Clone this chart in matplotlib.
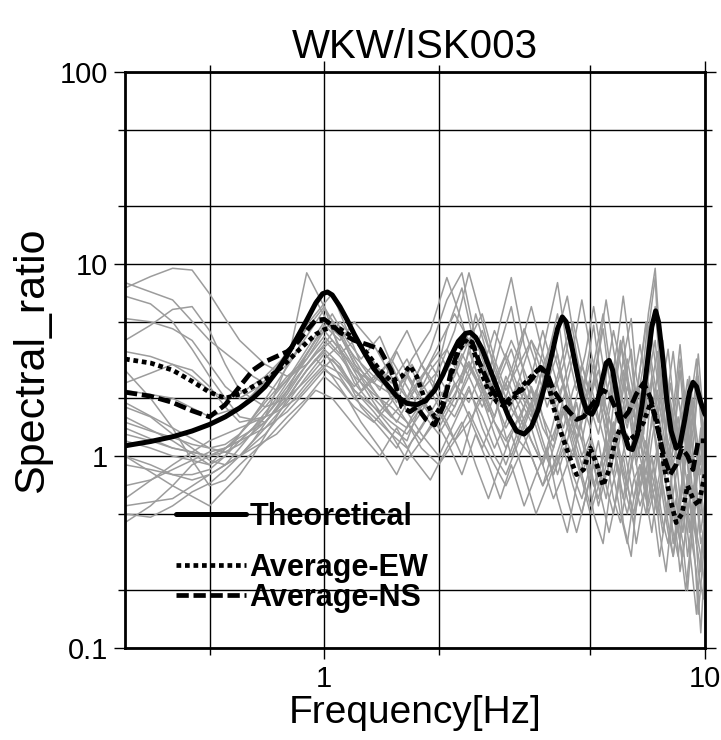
import matplotlib
matplotlib.use("Agg")
import matplotlib.pyplot as plt
from matplotlib.ticker import FixedLocator, NullFormatter

plt.rcParams["font.family"] = ["Liberation Sans", "DejaVu Sans"]

# Theoretical transfer function
theo_f = [0.30, 0.35, 0.40, 0.45, 0.50, 0.55, 0.60, 0.65, 0.70, 0.75,
          0.80, 0.85, 0.90, 0.95, 0.99, 1.02, 1.05, 1.10, 1.15, 1.20,
          1.27, 1.35, 1.45, 1.55, 1.65, 1.75, 1.85, 1.95, 2.05, 2.15,
          2.25, 2.35, 2.42, 2.50, 2.60, 2.75, 2.90, 3.05, 3.20, 3.35,
          3.50, 3.65, 3.80, 3.95, 4.10, 4.22, 4.32, 4.45, 4.60, 4.75,
          4.90, 5.05, 5.20, 5.35, 5.50, 5.60, 5.72, 5.90, 6.10, 6.30,
          6.45, 6.65, 6.85, 7.05, 7.25, 7.42, 7.55, 7.75, 7.95, 8.15,
          8.40, 8.60, 8.85, 9.10, 9.30, 9.50, 9.75, 10.0]
theo_v = [1.13, 1.19, 1.26, 1.35, 1.46, 1.60, 1.78, 2.00, 2.30, 2.75,
          3.35, 4.15, 5.10, 6.25, 7.00, 7.15, 6.90, 6.00, 5.10, 4.30,
          3.50, 2.85, 2.40, 2.05, 1.88, 1.85, 1.95, 2.20, 2.65, 3.30,
          3.95, 4.35, 4.40, 4.15, 3.60, 2.70, 2.05, 1.60, 1.35, 1.30,
          1.42, 1.75, 2.35, 3.30, 4.60, 5.30, 5.00, 3.90, 2.80, 2.05,
          1.70, 1.65, 1.85, 2.40, 3.05, 3.15, 2.80, 1.95, 1.35, 1.10,
          1.08, 1.30, 1.90, 3.00, 4.70, 5.70, 5.00, 3.20, 1.90, 1.35,
          1.10, 1.15, 1.55, 2.15, 2.42, 2.30, 1.90, 1.65]

# Averages
avg_f = [0.30, 0.35, 0.40, 0.45, 0.50, 0.55, 0.60, 0.65, 0.70, 0.75,
         0.80, 0.85, 0.90, 0.95, 1.00, 1.05, 1.10, 1.20, 1.30, 1.40,
         1.50, 1.60, 1.68, 1.75, 1.85, 1.95, 2.05, 2.15, 2.25, 2.35,
         2.45, 2.55, 2.70, 2.85, 3.00, 3.15, 3.30, 3.50, 3.70, 3.85,
         4.00, 4.20, 4.40, 4.60, 4.80, 5.00, 5.20, 5.40, 5.60, 5.80,
         6.00, 6.30, 6.60, 6.90, 7.20, 7.50, 7.80, 8.10, 8.40, 8.70,
         9.00, 9.30, 9.60, 10.0]
avg_ew = [3.20, 3.05, 2.80, 2.45, 2.15, 2.00, 2.10, 2.30, 2.50, 2.75,
          3.10, 3.50, 3.90, 4.30, 4.55, 4.70, 4.60, 4.10, 3.40, 2.80,
          2.45, 2.60, 2.95, 2.60, 1.90, 1.60, 1.90, 2.60, 3.50, 4.00,
          3.70, 2.90, 2.20, 1.90, 1.80, 2.00, 2.30, 2.60, 2.90, 2.60,
          1.80, 1.30, 1.00, 0.80, 0.85, 1.10, 0.90, 0.70, 0.85, 1.20,
          1.40, 1.20, 1.30, 1.50, 1.90, 1.50, 0.90, 0.60, 0.45, 0.50,
          0.70, 0.60, 0.55, 0.80]
avg_ns = [2.15, 2.05, 1.90, 1.72, 1.60, 1.85, 2.30, 2.80, 3.10, 3.30,
          3.50, 3.90, 4.50, 5.10, 5.15, 4.80, 4.40, 4.00, 3.80, 3.60,
          2.80, 1.80, 1.70, 1.80, 1.55, 1.45, 1.80, 2.70, 3.60, 4.10,
          3.90, 3.10, 2.40, 2.00, 1.90, 2.10, 2.20, 2.50, 2.90, 2.70,
          2.20, 1.90, 1.70, 1.55, 1.60, 1.80, 2.00, 2.20, 2.10, 1.80,
          1.50, 1.70, 2.10, 2.40, 2.00, 1.40, 1.00, 0.80, 0.90, 1.10,
          1.00, 0.85, 1.20, 1.20]

# Individual records (gray), first frequency set
rec_f = [0.3, 0.35, 0.4, 0.45, 0.5, 0.55, 0.6, 0.7, 0.8, 0.9,
         1.0, 1.1, 1.2, 1.35, 1.5, 1.65, 1.8, 2.0, 2.2, 2.4,
         2.6, 2.8, 3.0, 3.25, 3.5, 3.75, 4.0, 4.25, 4.5, 4.75,
         5.0, 5.25, 5.5, 5.75, 6.0, 6.25, 6.5, 6.75, 7.0, 7.25,
         7.5, 7.75, 8.0, 8.25, 8.5, 8.75, 9.0, 9.25, 9.5, 9.75, 10.0]

rec01 = [7.5, 8.6, 9.5, 9.3, 7.0, 5.2, 4.0, 3.0, 2.6, 3.2,
         4.5, 3.6, 2.8, 2.4, 2.1, 2.6, 1.9, 1.6, 2.3, 3.1,
         2.2, 1.5, 1.2, 1.6, 2.2, 1.4, 1.1, 1.8, 1.3, 0.9,
         1.2, 0.8, 1.1, 1.5, 0.9, 0.7, 1.0, 1.3, 0.8, 1.6,
         1.1, 0.7, 0.5, 0.9, 0.6, 0.4, 0.7, 1.0, 0.6, 0.5, 0.8]
rec02 = [6.8, 6.2, 5.0, 3.6, 2.6, 2.0, 1.6, 1.5, 2.0, 2.8,
         3.6, 3.0, 2.2, 1.8, 1.5, 1.3, 1.7, 2.4, 3.5, 2.6,
         1.8, 2.5, 3.4, 2.2, 1.6, 2.9, 4.2, 2.4, 1.7, 2.6,
         1.8, 1.3, 2.1, 3.0, 1.9, 1.4, 2.2, 1.5, 1.1, 2.4,
         3.5, 1.7, 1.0, 1.4, 0.9, 1.2, 1.8, 1.1, 0.8, 1.3, 1.0]
rec03 = [1.2, 1.1, 1.0, 0.95, 0.9, 1.0, 1.3, 1.8, 2.5, 3.6,
         5.0, 4.2, 3.3, 2.6, 2.2, 1.9, 2.5, 3.8, 5.5, 4.0,
         2.9, 2.2, 1.7, 2.5, 4.0, 3.1, 2.0, 1.4, 2.2, 3.0,
         2.1, 1.5, 2.6, 4.5, 3.0, 1.8, 1.3, 2.0, 2.9, 4.2,
         2.5, 1.6, 1.2, 0.9, 1.3, 2.1, 1.5, 0.9, 0.7, 1.2, 1.6]
rec04 = [0.5, 0.48, 0.55, 0.65, 0.72, 0.85, 1.0, 1.3, 1.8, 2.4,
         3.0, 2.7, 2.2, 1.7, 1.3, 1.1, 1.4, 2.0, 1.6, 2.3,
         1.4, 1.0, 0.8, 1.2, 1.0, 0.7, 0.9, 1.3, 0.8, 0.6,
         0.9, 0.55, 0.8, 1.1, 0.7, 0.5, 0.75, 0.9, 0.6, 1.0,
         0.7, 0.45, 0.35, 0.6, 0.4, 0.3, 0.5, 0.7, 0.35, 0.25, 0.5]
rec05 = [5.2, 5.0, 4.6, 4.0, 3.0, 2.3, 2.0, 2.4, 3.0, 4.2,
         5.8, 4.5, 3.2, 2.2, 1.6, 2.0, 3.0, 2.2, 1.8, 2.8,
         4.5, 3.0, 2.0, 1.5, 2.3, 1.6, 1.2, 2.0, 3.2, 1.9,
         1.4, 2.2, 1.6, 1.0, 1.5, 2.3, 1.7, 1.1, 1.6, 2.6,
         1.8, 1.2, 0.8, 1.5, 1.1, 0.7, 1.2, 2.0, 1.3, 0.9, 1.4]
rec06 = [1.0, 0.9, 0.8, 0.75, 0.8, 0.9, 1.1, 1.6, 3.0, 9.0,
         6.0, 3.5, 2.4, 1.8, 1.4, 1.2, 1.9, 1.4, 2.0, 3.5,
         2.3, 1.6, 2.6, 1.8, 1.2, 0.9, 1.5, 2.4, 1.5, 1.0,
         1.3, 0.9, 0.6, 1.0, 1.4, 0.9, 0.6, 0.8, 1.2, 0.7,
         0.5, 0.8, 1.1, 0.6, 0.4, 0.55, 0.3, 0.45, 0.7, 0.4, 0.6]
rec07 = [1.5, 1.35, 1.25, 1.15, 1.1, 1.15, 1.3, 1.9, 2.6, 3.0,
         3.8, 5.0, 4.0, 3.0, 2.4, 3.2, 2.2, 2.8, 4.5, 9.0,
         5.0, 2.8, 2.0, 3.5, 6.0, 3.4, 2.1, 3.0, 5.0, 3.0,
         2.0, 3.5, 6.5, 3.6, 2.2, 1.5, 2.5, 3.8, 2.4, 1.7,
         2.6, 4.0, 2.2, 1.6, 1.1, 1.7, 2.5, 1.6, 1.1, 0.8, 1.2]
rec08 = [0.7, 0.75, 0.85, 0.95, 1.05, 1.1, 1.2, 1.4, 1.7, 2.2,
         2.8, 2.5, 2.0, 1.6, 1.3, 0.95, 1.2, 1.7, 1.2, 1.5,
         2.0, 1.3, 0.9, 1.4, 1.9, 1.2, 0.8, 1.1, 0.7, 0.5,
         0.8, 1.2, 0.7, 0.5, 0.9, 1.3, 0.8, 0.55, 0.7, 1.0,
         0.6, 0.4, 0.6, 0.9, 0.5, 0.35, 0.2, 0.4, 0.6, 0.35, 0.45]
rec09 = [2.4, 2.7, 3.0, 2.8, 2.3, 1.8, 1.5, 1.6, 2.2, 3.4,
         4.8, 4.0, 5.0, 3.8, 2.6, 2.0, 2.6, 3.5, 2.4, 1.9,
         2.8, 4.5, 3.2, 2.0, 1.5, 2.4, 3.5, 2.3, 1.6, 1.2,
         2.0, 2.8, 1.8, 1.3, 2.0, 3.2, 2.1, 1.4, 1.0, 1.5,
         2.2, 1.4, 0.9, 1.3, 2.0, 1.5, 0.9, 0.6, 0.9, 1.4, 0.9]
rec10 = [1.8, 1.6, 1.3, 1.1, 0.95, 0.9, 1.0, 1.4, 1.9, 2.6,
         3.4, 2.9, 2.3, 3.0, 2.5, 1.7, 1.3, 1.0, 1.5, 2.2,
         1.6, 1.1, 1.5, 2.4, 1.7, 1.1, 0.8, 1.2, 1.8, 1.2,
         0.8, 0.6, 0.9, 1.4, 0.9, 0.6, 0.45, 0.7, 1.0, 0.7,
         0.5, 0.7, 0.45, 0.3, 0.5, 0.8, 0.55, 0.35, 0.25, 0.12, 0.3]
rec11 = [4.0, 4.8, 5.8, 6.0, 4.5, 3.0, 2.2, 1.8, 2.0, 2.5,
         3.2, 3.8, 2.9, 2.0, 1.6, 1.4, 1.8, 2.5, 3.2, 4.0,
         3.0, 2.0, 1.4, 1.9, 2.6, 4.5, 2.8, 1.8, 1.3, 2.0,
         3.2, 2.0, 1.4, 2.2, 3.8, 2.4, 1.6, 2.8, 4.8, 2.6,
         1.6, 2.4, 3.6, 2.0, 1.3, 0.9, 1.4, 2.2, 3.2, 1.8, 1.1]
rec12 = [0.45, 0.55, 0.7, 0.9, 1.0, 1.1, 1.25, 1.5, 2.1, 3.0,
         4.0, 3.3, 2.6, 2.1, 1.8, 1.5, 1.1, 0.9, 1.2, 1.7,
         1.2, 0.9, 0.7, 1.0, 1.4, 0.9, 0.6, 0.8, 1.1, 0.75,
         0.5, 0.7, 1.0, 0.6, 0.45, 0.7, 1.1, 0.7, 0.5, 0.8,
         1.1, 0.6, 0.4, 0.3, 0.45, 0.7, 0.4, 0.25, 0.15, 0.3, 0.5]
rec13 = [1.3, 1.2, 1.1, 1.05, 1.0, 1.05, 1.15, 1.5, 2.0, 2.8,
         3.5, 2.6, 2.0, 2.5, 3.2, 2.3, 1.7, 1.3, 1.8, 2.6,
         3.6, 2.4, 1.7, 1.2, 1.8, 2.8, 1.9, 1.3, 1.0, 1.5,
         2.4, 1.6, 1.1, 0.8, 1.3, 2.0, 1.4, 1.0, 0.7, 1.2,
         1.8, 1.2, 0.8, 1.1, 1.6, 1.0, 0.7, 0.5, 0.8, 1.2, 0.7]
rec14 = [2.8, 2.0, 1.4, 0.95, 0.7, 0.75, 0.9, 1.2, 1.6, 2.0,
         2.6, 2.2, 1.8, 1.5, 1.9, 2.7, 2.0, 1.5, 2.1, 3.0,
         2.2, 1.5, 1.1, 1.6, 1.2, 0.9, 1.3, 1.8, 1.2, 0.8,
         1.1, 0.7, 1.0, 1.5, 1.0, 0.7, 0.5, 0.8, 1.2, 0.8,
         0.6, 0.9, 0.6, 0.4, 0.3, 0.5, 0.8, 0.5, 0.35, 0.6, 0.9]
rec15 = [3.5, 3.3, 3.0, 2.6, 2.2, 2.0, 2.1, 2.6, 3.4, 4.6,
         6.0, 4.3, 3.0, 2.4, 3.2, 4.5, 3.0, 2.0, 2.6, 4.0,
         5.5, 3.2, 2.2, 3.0, 4.0, 2.6, 1.8, 2.4, 3.6, 6.5,
         3.6, 2.3, 1.6, 2.4, 4.0, 2.6, 1.8, 2.8, 5.0, 3.0,
         2.0, 1.5, 2.2, 3.5, 2.0, 1.4, 1.0, 1.6, 2.6, 1.7, 1.2]
rec16 = [0.9, 0.85, 0.8, 0.8, 0.85, 1.0, 1.2, 1.6, 2.3, 3.2,
         4.2, 3.4, 4.0, 3.1, 2.0, 1.5, 1.2, 1.6, 2.4, 1.6,
         1.1, 1.6, 2.4, 1.5, 1.0, 0.7, 1.1, 1.7, 1.1, 0.8,
         0.55, 0.8, 1.2, 0.8, 0.5, 0.35, 0.6, 0.9, 0.6, 0.4,
         0.7, 1.0, 0.6, 0.35, 0.5, 0.8, 1.2, 0.7, 0.4, 0.3, 0.2]

# Individual records (gray), second frequency set
rec_f2 = [0.3, 0.4, 0.5, 0.6, 0.65, 0.75, 0.85, 0.95, 1.05, 1.15,
          1.25, 1.4, 1.55, 1.7, 1.9, 2.1, 2.3, 2.5, 2.7, 2.9,
          3.1, 3.35, 3.6, 3.85, 4.1, 4.35, 4.6, 4.85, 5.1, 5.4,
          5.6, 5.9, 6.1, 6.4, 6.6, 6.9, 7.1, 7.4, 7.6, 7.9,
          8.1, 8.4, 8.6, 8.9, 9.1, 9.4, 9.6, 9.9, 10.0]

rec17 = [1.6, 1.2, 0.9, 1.3, 1.6, 2.4, 3.5, 6.5, 4.5, 3.0,
         2.2, 2.8, 1.9, 3.0, 2.0, 4.5, 7.5, 3.5, 2.2, 3.8,
         6.0, 2.6, 1.6, 3.2, 5.5, 2.4, 1.4, 2.6, 4.8, 2.0,
         1.2, 2.8, 4.2, 1.8, 1.0, 2.2, 4.5, 8.5, 3.0, 1.4,
         0.8, 1.6, 2.8, 1.3, 0.7, 1.4, 2.6, 1.2, 1.5]
rec18 = [1.0, 0.7, 0.55, 0.8, 1.0, 1.6, 2.4, 3.2, 2.6, 2.0,
         1.5, 1.1, 0.8, 1.2, 1.7, 1.2, 0.8, 1.3, 0.9, 0.6,
         0.9, 0.55, 0.8, 1.1, 0.6, 0.4, 0.7, 1.0, 0.5, 0.35,
         0.6, 0.9, 0.45, 0.3, 0.55, 0.8, 0.5, 0.7, 0.4, 0.25,
         0.4, 0.6, 0.35, 0.2, 0.3, 0.5, 0.25, 0.18, 0.3]
rec19 = [2.2, 2.0, 1.6, 1.8, 2.1, 2.9, 4.2, 5.5, 7.0, 4.5,
         3.0, 2.2, 3.5, 2.4, 3.6, 6.5, 9.0, 4.0, 2.6, 5.0,
         8.5, 3.8, 2.4, 4.5, 8.0, 3.6, 2.2, 3.4, 6.0, 3.0,
         2.0, 4.0, 6.8, 3.2, 1.8, 3.0, 5.5, 9.5, 4.2, 2.0,
         1.3, 2.4, 3.8, 1.8, 1.1, 1.9, 3.4, 1.6, 2.0]
rec20 = [0.6, 0.9, 1.2, 1.4, 1.5, 1.7, 2.0, 2.6, 3.2, 2.5,
         1.8, 1.4, 1.1, 1.6, 2.2, 1.5, 1.0, 1.8, 2.6, 1.6,
         1.0, 1.5, 2.2, 1.3, 0.8, 1.2, 1.9, 1.1, 0.7, 1.0,
         1.6, 0.9, 0.6, 1.1, 1.7, 0.9, 0.55, 0.8, 1.3, 0.7,
         0.5, 0.8, 1.2, 0.6, 0.4, 0.65, 0.9, 0.45, 0.6]
rec21 = [8.0, 6.5, 4.0, 3.0, 2.6, 2.2, 2.8, 4.0, 5.0, 3.6,
         2.6, 2.0, 1.5, 2.1, 3.0, 2.2, 3.4, 2.5, 1.7, 2.6,
         3.6, 2.2, 1.5, 2.4, 3.4, 1.8, 1.2, 2.0, 3.0, 1.6,
         1.0, 1.8, 2.8, 1.4, 0.9, 1.5, 2.4, 1.2, 0.8, 1.3,
         2.0, 1.0, 0.6, 1.1, 1.7, 0.8, 0.5, 0.9, 1.3]
rec22 = [1.4, 1.1, 1.0, 1.2, 1.4, 2.0, 2.9, 4.0, 5.5, 4.0,
         3.2, 4.2, 2.6, 1.8, 2.8, 3.6, 2.4, 5.5, 3.2, 2.0,
         2.8, 4.6, 3.0, 1.8, 2.6, 4.2, 2.8, 1.6, 2.4, 4.6,
         2.6, 1.5, 2.2, 3.6, 2.0, 1.3, 2.6, 4.0, 2.2, 1.4,
         2.4, 1.5, 0.9, 1.6, 2.6, 1.4, 0.8, 1.2, 1.8]
rec23 = [0.55, 0.6, 0.8, 1.0, 1.1, 1.3, 1.7, 2.2, 2.0, 1.6,
         1.3, 1.0, 1.4, 1.0, 0.75, 1.1, 1.5, 0.9, 0.6, 0.9,
         1.3, 0.8, 0.5, 0.7, 1.0, 0.6, 0.4, 0.6, 0.9, 0.55,
         0.4, 0.65, 1.0, 0.55, 0.35, 0.6, 0.8, 0.45, 0.3, 0.5,
         0.7, 0.4, 0.25, 0.4, 0.6, 0.3, 0.15, 0.3, 0.5]
rec24 = [1.9, 1.4, 1.1, 1.0, 1.2, 1.8, 2.6, 3.4, 4.0, 3.2,
         2.4, 1.7, 2.2, 3.2, 4.5, 8.5, 5.0, 2.8, 2.0, 2.8,
         4.0, 2.8, 1.9, 2.8, 4.4, 6.8, 3.4, 2.0, 3.0, 5.5,
         3.2, 2.0, 3.2, 5.2, 2.6, 1.6, 2.8, 6.0, 3.0, 1.8,
         1.2, 2.0, 3.2, 1.6, 1.0, 1.6, 2.2, 1.1, 1.4]

records = [rec01, rec02, rec03, rec04, rec05, rec06, rec07, rec08,
           rec09, rec10, rec11, rec12, rec13, rec14, rec15, rec16]
records2 = [rec17, rec18, rec19, rec20, rec21, rec22, rec23, rec24]

fig = plt.figure(figsize=(7.21, 7.40), dpi=100)
ax = fig.add_axes([0.1734, 0.1243, 0.8044, 0.7784])

for rec in records:
    ax.plot(rec_f, rec, color="#9c9c9c", lw=1.1, zorder=2)
for rec in records2:
    ax.plot(rec_f2, rec, color="#9c9c9c", lw=1.1, zorder=2)

theo_line, = ax.plot(theo_f, theo_v, color="black", lw=3.6,
                     solid_capstyle="round", zorder=4, label="Theoretical")
ew_line, = ax.plot(avg_f, avg_ew, color="black", lw=3.4,
                   dashes=(1.0, 0.8), dash_capstyle="butt", zorder=3,
                   label="Average-EW")
ns_line, = ax.plot(avg_f, avg_ns, color="black", lw=3.4,
                   dashes=(2.6, 1.0), dash_capstyle="butt", zorder=3,
                   label="Average-NS")

ax.set_xscale("log")
ax.set_yscale("log")
ax.set_xlim(0.3, 10)
ax.set_ylim(0.1, 100)

ax.xaxis.set_major_locator(FixedLocator([1, 10]))
ax.xaxis.set_minor_locator(FixedLocator([0.5, 2, 5]))
ax.yaxis.set_major_locator(FixedLocator([0.1, 1, 10, 100]))
ax.yaxis.set_minor_locator(FixedLocator([0.2, 0.5, 2, 5, 20, 50]))
ax.xaxis.set_minor_formatter(NullFormatter())
ax.yaxis.set_minor_formatter(NullFormatter())
ax.set_xticklabels(["1", "10"])
ax.set_yticklabels(["0.1", "1", "10", "100"])

ax.grid(True, which="both", color="black", lw=1.0, zorder=1)
ax.set_axisbelow(True)
ax.tick_params(which="major", direction="out", length=8, width=1.0,
               labelsize=21, top=True, right=True, pad=4)
ax.tick_params(which="minor", direction="out", length=5, width=1.0,
               top=True, right=True)
for sp in ax.spines.values():
    sp.set_linewidth(2.0)

ax.set_title("WKW/ISK003", fontsize=29, pad=10)
ax.set_xlabel("Frequency[Hz]", fontsize=28, labelpad=2)
ax.set_ylabel("Spectral_ratio", fontsize=31, labelpad=6)

leg1 = ax.legend(handles=[theo_line], loc="upper left",
                 bbox_to_anchor=(0.066, 0.275), frameon=False,
                 handlelength=2.3, handletextpad=0.12,
                 prop={"weight": "bold", "size": 22}, borderaxespad=0)
ax.add_artist(leg1)
ax.legend(handles=[ew_line, ns_line], loc="upper left",
          bbox_to_anchor=(0.066, 0.186), frameon=False,
          handlelength=2.3, handletextpad=0.12, labelspacing=0.0,
          prop={"weight": "bold", "size": 22}, borderaxespad=0)

fig.savefig("out.png", dpi=100)
